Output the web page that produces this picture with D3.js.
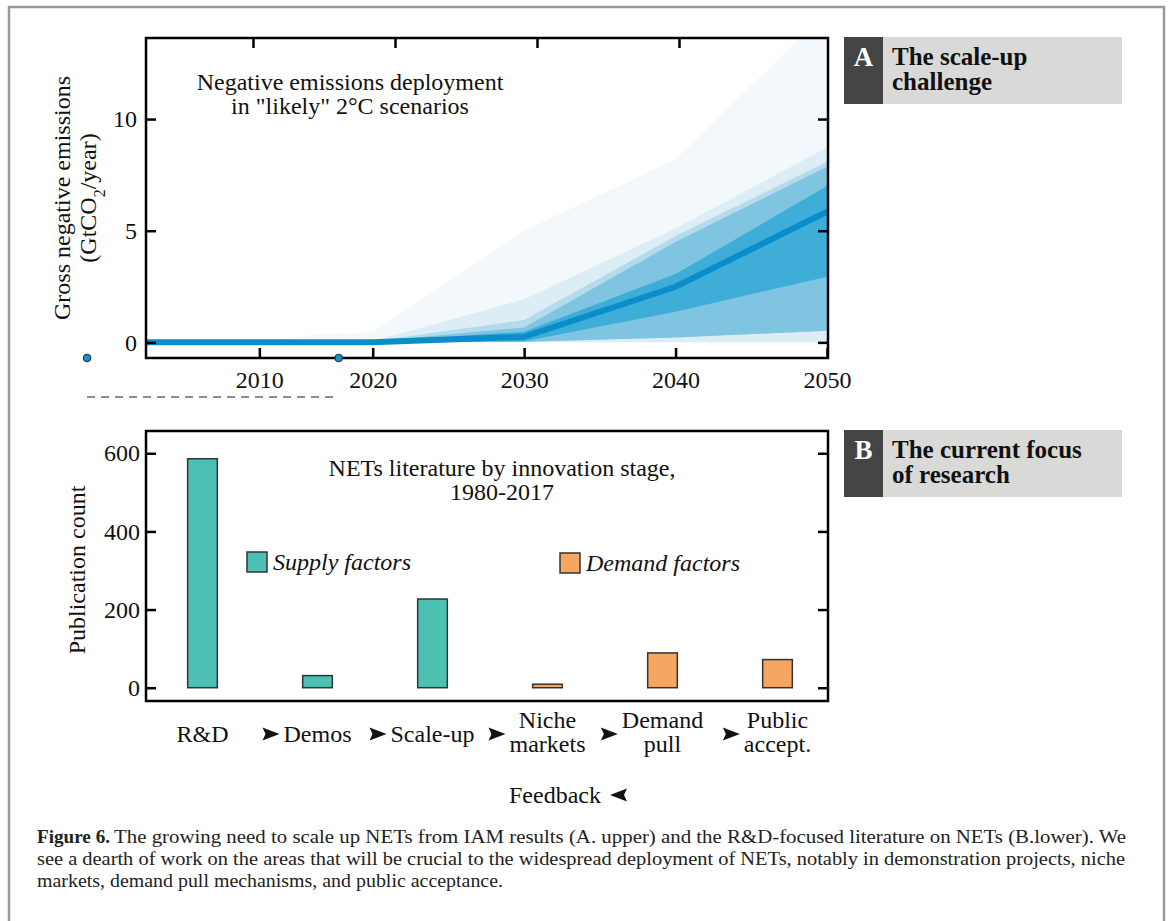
<!DOCTYPE html>
<html>
<head>
<meta charset="utf-8">
<script src="https://cdn.jsdelivr.net/npm/d3@7"></script>
<style>
body { margin: 0; background: #fff; }
</style>
</head>
<body>
<script>
// panel A: negative emissions fan (GtCO2/year)
var years = [2000, 2010, 2015, 2020, 2030, 2040, 2050];
var medianVals = [0, 0, 0, 0, 0.25, 2.49, 5.85];
var outerHigh = [0, 0, 0.35, 0.45, 5.0, 8.2, 14.8];
var outerLow = [0, 0, 0, 0, 0, 0, 0];
var p90High = [0, 0, 0, 0.05, 1.93, 5.1, 8.73];
var p90Low = [0, 0, 0, 0, 0, 0, 0];
var p80High = [0, 0, 0, 0.05, 1.0, 4.76, 8.09];
var p80Low = [0, 0, 0, 0, 0.03, 0.22, 0.52];
var p66High = [0, 0, 0, 0.04, 0.67, 4.5, 7.86];
var p66Low = [0, 0, 0, 0, 0.03, 0.22, 0.52];
var p50High = [0, 0, 0, 0.03, 0.48, 3.06, 7.0];
var p50Low = [0, 0, 0, 0, 0.05, 1.37, 2.94];
var yearTicks = [2010, 2020, 2030, 2040, 2050];
var topYearTicks = [2010, 2020, 2030, 2040];
var emissionTicks = [0, 5, 10];
var markerYears = [1994.8, 2017];

// panel B: publication counts by innovation stage
var stages = ["R&D", "Demos", "Scale-up", "Niche\nmarkets", "Demand\npull", "Public\naccept."];
var counts = [586, 31, 227, 9, 89, 72];
var factorType = ["supply", "supply", "supply", "demand", "demand", "demand"];
var countTicks = [0, 200, 400, 600];

var captionLines = [
    "The growing need to scale up NETs from IAM results (A. upper) and the R&D-focused literature on NETs (B.lower). We",
    "see a dearth of work on the areas that will be crucial to the widespread deployment of NETs, notably in demonstration projects, niche",
    "markets, demand pull mechanisms, and public acceptance."
];

var serif = "'Liberation Serif', 'Times New Roman', serif";

var svg = d3.select("body")
    .append("svg")
    .attr("width", 1169)
    .attr("height", 921)
    .style("font-family", serif);

// outer frame
svg.append("rect")
    .attr("x", 9)
    .attr("y", 7)
    .attr("width", 1155)
    .attr("height", 940)
    .attr("fill", "none")
    .attr("stroke", "#9a9a9a")
    .attr("stroke-width", 2.5);

// ---------- panel A ----------
var A = { left: 146, right: 828, top: 38, bottom: 358 };
var x = d3.scaleLinear().domain([2000, 2020, 2050]).range([146, 372.7, 827]);
var xTop = d3.scaleLinear().domain([2010, 2040]).range([253, 679]);
var y = d3.scaleLinear().domain([-0.7, 13.63]).range([A.bottom, A.top]);

svg.append("clipPath")
    .attr("id", "clipA")
    .append("rect")
    .attr("x", A.left)
    .attr("y", A.top)
    .attr("width", A.right - A.left)
    .attr("height", A.bottom - A.top);

var gA = svg.append("g").attr("clip-path", "url(#clipA)");

var bands = [
    { lo: outerLow, hi: outerHigh, c: "#f2f8fb" },
    { lo: p90Low, hi: p90High, c: "#dcedf5" },
    { lo: p80Low, hi: p80High, c: "#b3dbec" },
    { lo: p66Low, hi: p66High, c: "#7fc4e1" },
    { lo: p50Low, hi: p50High, c: "#3eaed8" }
];
bands.forEach(function (b) {
    var area = d3.area()
        .x(function (d, i) { return x(years[i]); })
        .y0(function (d, i) { return y(b.lo[i]); })
        .y1(function (d, i) { return y(b.hi[i]); });
    gA.append("path")
        .datum(years)
        .attr("d", area)
        .attr("fill", b.c);
});

var line = d3.line()
    .x(function (d, i) { return x(years[i]); })
    .y(function (d) { return y(d); });
svg.append("path")
    .datum(medianVals)
    .attr("d", line)
    .attr("fill", "none")
    .attr("stroke", "#0a8ec9")
    .attr("stroke-width", 6);

function styleAxis(g, size) {
    g.select(".domain").remove();
    g.selectAll(".tick line").attr("stroke", "#000").attr("stroke-width", 2.5);
    g.selectAll(".tick text")
        .attr("fill", "#111")
        .style("font-family", serif)
        .style("font-size", size + "px");
}

svg.append("g")
    .attr("transform", "translate(0," + A.bottom + ")")
    .call(d3.axisBottom(x).tickValues(yearTicks).tickSize(-10).tickPadding(13).tickFormat(d3.format("d")))
    .call(styleAxis, 24);
svg.append("g")
    .attr("transform", "translate(0," + A.top + ")")
    .call(d3.axisTop(xTop).tickValues(topYearTicks).tickSize(-10).tickFormat(""))
    .call(styleAxis, 24);
svg.append("g")
    .attr("transform", "translate(" + A.left + ",0)")
    .call(d3.axisLeft(y).tickValues(emissionTicks).tickSize(-10).tickPadding(9))
    .call(styleAxis, 24);
svg.append("g")
    .attr("transform", "translate(" + A.right + ",0)")
    .call(d3.axisRight(y).tickValues(emissionTicks).tickSize(-10).tickFormat(""))
    .call(styleAxis, 24);

svg.append("rect")
    .attr("x", A.left)
    .attr("y", A.top)
    .attr("width", A.right - A.left)
    .attr("height", A.bottom - A.top)
    .attr("fill", "none")
    .attr("stroke", "#000")
    .attr("stroke-width", 2.5);

svg.append("text")
    .attr("x", 350)
    .attr("y", 90)
    .attr("text-anchor", "middle")
    .style("font-size", "24px")
    .attr("fill", "#111")
    .text("Negative emissions deployment");
svg.append("text")
    .attr("x", 350)
    .attr("y", 114)
    .attr("text-anchor", "middle")
    .style("font-size", "24px")
    .attr("fill", "#111")
    .text("in \"likely\" 2\u00B0C scenarios");

svg.append("text")
    .attr("transform", "translate(62,198) rotate(-90)")
    .attr("text-anchor", "middle")
    .attr("dy", "0.35em")
    .style("font-size", "24px")
    .attr("fill", "#111")
    .text("Gross negative emissions");
var yl2 = svg.append("text")
    .attr("transform", "translate(88,198) rotate(-90)")
    .attr("text-anchor", "middle")
    .attr("dy", "0.35em")
    .style("font-size", "24px")
    .attr("fill", "#111");
yl2.append("tspan").text("(GtCO");
yl2.append("tspan").attr("baseline-shift", "sub").style("font-size", "16px").text("2");
yl2.append("tspan").text("/year)");

// markers under the axis
svg.append("line")
    .attr("x1", x(markerYears[0]))
    .attr("x2", x(markerYears[1]))
    .attr("y1", 397)
    .attr("y2", 397)
    .attr("stroke", "#666")
    .attr("stroke-width", 1.5)
    .attr("stroke-dasharray", "8,6");
svg.selectAll("circle.marker")
    .data(markerYears)
    .enter()
    .append("circle")
    .attr("class", "marker")
    .attr("cx", function (d) { return x(d); })
    .attr("cy", A.bottom)
    .attr("r", 3.8)
    .attr("fill", "#1a90d2")
    .attr("stroke", "#123")
    .attr("stroke-width", 1);

// panel header boxes
function header(top, letter, l1, l2) {
    svg.append("rect")
        .attr("x", 844)
        .attr("y", top)
        .attr("width", 39)
        .attr("height", 67)
        .attr("fill", "#434443");
    svg.append("rect")
        .attr("x", 883)
        .attr("y", top)
        .attr("width", 239)
        .attr("height", 67)
        .attr("fill", "#d9d9d7");
    svg.append("text")
        .attr("x", 863.5)
        .attr("y", top + 29)
        .attr("text-anchor", "middle")
        .attr("fill", "#fff")
        .style("font-size", "27px")
        .style("font-weight", "bold")
        .text(letter);
    svg.append("text")
        .attr("x", 892)
        .attr("y", top + 28)
        .attr("fill", "#111")
        .style("font-size", "25px")
        .style("font-weight", "bold")
        .text(l1);
    svg.append("text")
        .attr("x", 892)
        .attr("y", top + 53)
        .attr("fill", "#111")
        .style("font-size", "25px")
        .style("font-weight", "bold")
        .text(l2);
}
header(37, "A", "The scale-up", "challenge");
header(430, "B", "The current focus", "of research");

// ---------- panel B ----------
var B = { left: 146, right: 828, top: 431, bottom: 701 };
var xb = d3.scaleBand().domain(stages).range([145, 835]).paddingInner(0.742).paddingOuter(0.371);
var yb = d3.scaleLinear().domain([-34, 657]).range([B.bottom, B.top]);
var fillFor = { supply: "#4bc1b3", demand: "#f7a662" };

svg.selectAll("rect.bar")
    .data(counts)
    .enter()
    .append("rect")
    .attr("class", "bar")
    .attr("x", function (d, i) { return xb(stages[i]); })
    .attr("y", function (d) { return yb(d); })
    .attr("width", xb.bandwidth())
    .attr("height", function (d) { return yb(0) - yb(d); })
    .attr("fill", function (d, i) { return fillFor[factorType[i]]; })
    .attr("stroke", "#333")
    .attr("stroke-width", 1.5);

svg.append("g")
    .attr("transform", "translate(" + B.left + ",0)")
    .call(d3.axisLeft(yb).tickValues(countTicks).tickSize(-10).tickPadding(6))
    .call(styleAxis, 24);
svg.append("g")
    .attr("transform", "translate(" + B.right + ",0)")
    .call(d3.axisRight(yb).tickValues(countTicks).tickSize(-10).tickFormat(""))
    .call(styleAxis, 24);

svg.append("rect")
    .attr("x", B.left)
    .attr("y", B.top)
    .attr("width", B.right - B.left)
    .attr("height", B.bottom - B.top)
    .attr("fill", "none")
    .attr("stroke", "#000")
    .attr("stroke-width", 2.5);

svg.append("text")
    .attr("x", 502)
    .attr("y", 476)
    .attr("text-anchor", "middle")
    .style("font-size", "24px")
    .attr("fill", "#111")
    .text("NETs literature by innovation stage,");
svg.append("text")
    .attr("x", 502)
    .attr("y", 500)
    .attr("text-anchor", "middle")
    .style("font-size", "24px")
    .attr("fill", "#111")
    .text("1980-2017");

svg.append("text")
    .attr("transform", "translate(77,570) rotate(-90)")
    .attr("text-anchor", "middle")
    .attr("dy", "0.35em")
    .style("font-size", "24px")
    .attr("fill", "#111")
    .text("Publication count");

// legend
var legendItems = [
    { type: "supply", label: "Supply factors", x: 247, y: 552 },
    { type: "demand", label: "Demand factors", x: 560, y: 553 }
];
legendItems.forEach(function (it) {
    svg.append("rect")
        .attr("x", it.x)
        .attr("y", it.y)
        .attr("width", 20)
        .attr("height", 20)
        .attr("fill", fillFor[it.type])
        .attr("stroke", "#333")
        .attr("stroke-width", 1.5);
    svg.append("text")
        .attr("x", it.x + 26)
        .attr("y", it.y + 18)
        .style("font-size", "24px")
        .style("font-style", "italic")
        .attr("fill", "#111")
        .text(it.label);
});

// stage labels with arrows
var arrowRight = "M0,-6.5 L17,0 L0,6.5 L3,0 Z";
stages.forEach(function (s, i) {
    var cx = xb(s) + xb.bandwidth() / 2;
    var parts = s.split("\n");
    var widest = 0;
    parts.forEach(function (p, k) {
        var base = parts.length === 1 ? 742 : 728 + k * 24;
        var t = svg.append("text")
            .attr("x", cx)
            .attr("y", base)
            .attr("text-anchor", "middle")
            .style("font-size", "24px")
            .attr("fill", "#111")
            .text(p);
        widest = Math.max(widest, t.node().getComputedTextLength());
    });
    if (i > 0) {
        svg.append("path")
            .attr("d", arrowRight)
            .attr("transform", "translate(" + (cx - widest / 2 - 21) + ",734)")
            .attr("fill", "#111");
    }
});

svg.append("text")
    .attr("x", 555)
    .attr("y", 803)
    .attr("text-anchor", "middle")
    .style("font-size", "24px")
    .attr("fill", "#111")
    .text("Feedback");
svg.append("path")
    .attr("d", "M0,-6.5 L-17,0 L0,6.5 L-3,0 Z")
    .attr("transform", "translate(627,795)")
    .attr("fill", "#111");

// caption
svg.append("text")
    .attr("x", 37)
    .attr("y", 843)
    .style("font-size", "18px")
    .style("font-weight", "bold")
    .attr("fill", "#222")
    .attr("textLength", 73)
    .attr("lengthAdjust", "spacingAndGlyphs")
    .text("Figure 6.");
var capEnds = [1126, 1125, 503];
var capStarts = [114, 37, 37];
captionLines.forEach(function (c, i) {
    svg.append("text")
        .attr("x", capStarts[i])
        .attr("y", 843 + i * 22)
        .style("font-size", "18px")
        .attr("fill", "#222")
        .attr("textLength", capEnds[i] - capStarts[i])
        .attr("lengthAdjust", "spacingAndGlyphs")
        .text(c);
});
</script>
</body>
</html>
